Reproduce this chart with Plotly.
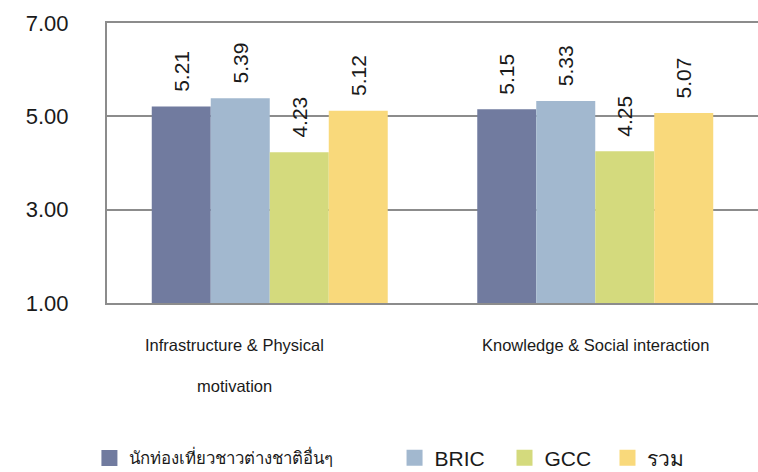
import plotly.graph_objects as go

categories = ["Infrastructure & Physical motivation", "Knowledge & Social interaction"]
label_lines = [["Infrastructure & Physical", "motivation"], ["Knowledge & Social interaction"]]
series_names = ["นักท่องเที่ยวชาวต่างชาติอื่นๆ", "BRIC", "GCC", "รวม"]
series_values = [
    [5.21, 5.15],
    [5.39, 5.33],
    [4.23, 4.25],
    [5.12, 5.07],
]
colors = ["#717B9F", "#A2B8CF", "#D4DA7D", "#F9D97B"]
y_ticks = [1, 3, 5, 7]

FONT = "Liberation Sans"
TXT = "#1a1a1a"

W, H = 758, 472

legend_ids = ["legend", "legend2", "legend3", "legend4"]
legend_x = [-0.027, 0.4417, 0.6106, 0.7688]
legend_size = [16.8, 21, 21, 21]

fig = go.Figure()
for name, vals, col, lid in zip(series_names, series_values, colors, legend_ids):
    fig.add_trace(go.Bar(
        x=categories, y=vals, name=name, showlegend=False,
        marker=dict(color=col, line=dict(width=0)),
        texttemplate="\u00a0\u00a0%{y:.2f}",
        textposition="outside", textangle=-90,
        textfont=dict(size=21, color=TXT, family=FONT),
        cliponaxis=False,
        hoverinfo="skip",
    ))
    fig.add_trace(go.Scatter(
        x=[None], y=[None], mode="markers", name=name, legend=lid,
        marker=dict(symbol="square", size=18, color=col),
        showlegend=True, hoverinfo="skip",
    ))

annotations = []
shifts = [-35, 0]
for cat, lines, xs in zip(categories, label_lines, shifts):
    for i, ln in enumerate(lines):
        annotations.append(dict(
            x=cat, xref="x", y=0, yref="paper", yshift=-42 - 41 * i,
            xshift=xs, text=ln, showarrow=False, yanchor="middle",
            font=dict(size=16.5, color=TXT, family=FONT),
        ))

layout_legends = {}
for lid, lx, fs in zip(legend_ids, legend_x, legend_size):
    layout_legends[lid] = dict(orientation="h", xanchor="left", x=lx,
                               y=-0.5536, yanchor="middle",
                               font=dict(size=fs, color=TXT, family=FONT),
                               bgcolor="rgba(0,0,0,0)")

fig.update_layout(
    width=W, height=H,
    margin=dict(l=107, r=0, t=23, b=169, autoexpand=False),
    paper_bgcolor="white", plot_bgcolor="white",
    barmode="group", bargap=0.275, bargroupgap=0,
    font=dict(family=FONT, color=TXT),
    xaxis=dict(showticklabels=False, showline=True, linecolor="#8c8c8c",
               linewidth=2, mirror=True, showgrid=False, ticks=""),
    yaxis=dict(range=[1, 7], tickvals=y_ticks, tickformat=".2f",
               showgrid=True, gridcolor="#8c8c8c", gridwidth=2,
               showline=True, linecolor="#8c8c8c", linewidth=2,
               ticks="", ticklabelstandoff=32, zeroline=False,
               tickfont=dict(size=22, color=TXT, family=FONT)),
    showlegend=True,
    annotations=annotations,
    **layout_legends,
)

fig.write_html(
    "out.html",
    config={"displayModeBar": False},
    post_script="document.body.style.margin='0';document.body.style.overflow='hidden';",
)
